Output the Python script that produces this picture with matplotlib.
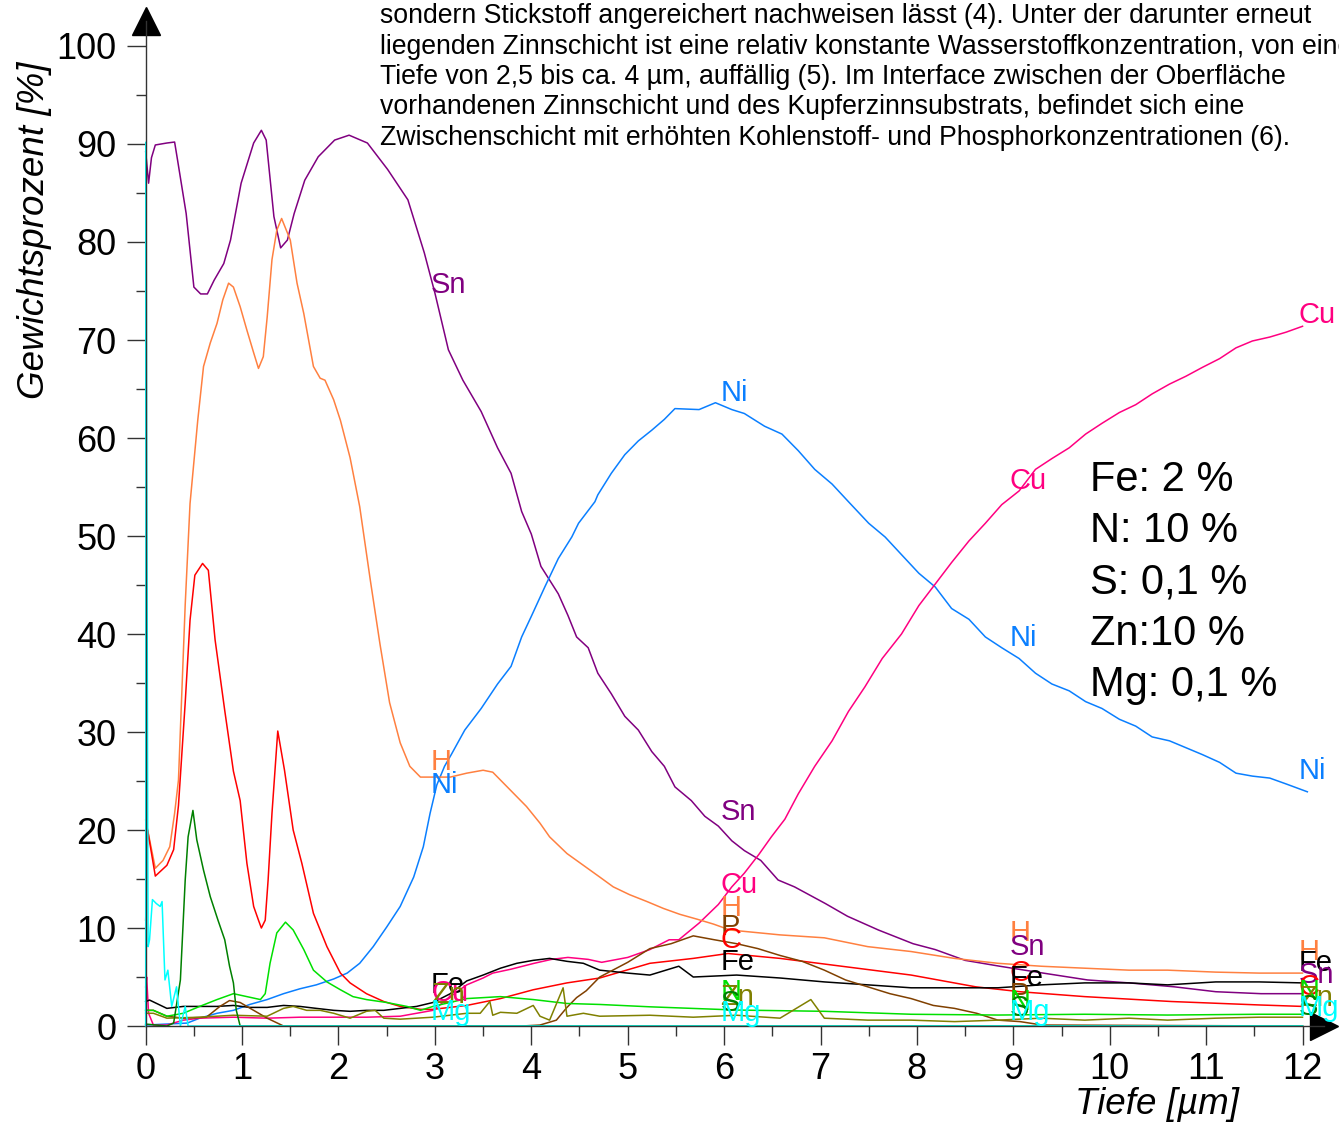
import matplotlib
matplotlib.use("Agg")
import matplotlib.pyplot as plt
from matplotlib.ticker import MultipleLocator

plt.rcParams['font.family'] = ['Liberation Sans', 'DejaVu Sans']

# depth profile, values
sn_x = [0, 0.03, 0.06, 0.1, 0.22, 0.3, 0.33, 0.42, 0.5, 0.57, 0.64, 0.71, 0.81, 0.88, 0.99, 1.12, 1.2, 1.25,
        1.33, 1.4, 1.47, 1.54, 1.65, 1.79, 1.96, 2.11, 2.3, 2.51, 2.72, 2.89, 3.0, 3.14, 3.29, 3.48, 3.65, 3.79,
        3.9, 4.0, 4.1, 4.19, 4.28, 4.38, 4.47, 4.59, 4.69, 4.83, 4.97, 5.11, 5.25, 5.38, 5.49, 5.66, 5.8, 5.94,
        6.08, 6.21, 6.38, 6.56, 6.73, 7.05, 7.28, 7.6, 7.96, 8.19, 8.5, 8.86, 9.31, 9.77, 10.2, 10.67, 11.1,
        11.57, 12.0]
sn_y = [89.2, 86.0, 88.6, 89.9, 90.1, 90.2, 88.4, 82.9, 75.4, 74.7, 74.7, 76.1, 77.8, 80.2, 86.0, 90.1, 91.4, 90.4,
        82.6, 79.4, 80.2, 82.9, 86.3, 88.7, 90.4, 90.9, 90.1, 87.4, 84.3, 78.9, 74.8, 69.0, 65.9, 62.7, 59.0, 56.4,
        52.5, 50.2, 46.9, 45.5, 44.1, 41.9, 39.7, 38.6, 36.0, 33.9, 31.6, 30.2, 28.0, 26.5, 24.4, 23.0, 21.4, 20.4,
        18.9, 17.9, 16.9, 14.9, 14.2, 12.5, 11.2, 9.8, 8.4, 7.8, 6.7, 6.1, 5.4, 4.7, 4.4, 4.0, 3.5,
        3.3, 3.3]

ni_x = [0, 0.43, 0.56, 0.74, 0.91, 1.08, 1.26, 1.43, 1.6, 1.77, 1.95, 2.09, 2.22, 2.36, 2.5, 2.64, 2.78, 2.88,
        2.95, 3.02, 3.1, 3.17, 3.31, 3.48, 3.65, 3.79, 3.9, 4.0, 4.14, 4.28, 4.42, 4.49, 4.66, 4.69, 4.83, 4.97,
        5.11, 5.25, 5.38, 5.49, 5.74, 5.91, 6.08, 6.21, 6.42, 6.6, 6.77, 6.94, 7.12, 7.29, 7.5, 7.67, 7.84, 8.02,
        8.19, 8.36, 8.54, 8.71, 8.88, 9.06, 9.23, 9.4, 9.58, 9.75, 9.92, 10.1, 10.27, 10.44, 10.62, 10.79, 10.96,
        11.14, 11.31, 11.48, 11.66, 11.83, 12.05]
ni_y = [0.1, 0.3, 0.8, 1.3, 1.6, 2.2, 2.7, 3.3, 3.8, 4.2, 4.8, 5.4, 6.4, 8.1, 10.1, 12.2, 15.2, 18.3,
        21.7, 24.6, 26.5, 27.7, 30.2, 32.4, 34.9, 36.7, 39.7, 41.8, 44.8, 47.7, 49.9, 51.3, 53.5, 54.2, 56.4, 58.3,
        59.7, 60.8, 61.9, 63.0, 62.9, 63.6, 62.9, 62.5, 61.2, 60.4, 58.7, 56.8, 55.3, 53.5, 51.3, 49.9, 48.1, 46.2,
        44.8, 42.6, 41.5, 39.7, 38.6, 37.5, 36.0, 34.9, 34.2, 33.1, 32.4, 31.3, 30.6, 29.5, 29.1, 28.4, 27.7,
        26.9, 25.8, 25.5, 25.3, 24.7, 23.9]

cu_x = [0, 0.01, 0.03, 0.08, 0.22, 0.39, 0.56, 0.91, 1.26, 1.6, 1.95, 2.29, 2.64, 2.81, 2.98, 3.16, 3.33, 3.5,
        3.6, 3.79, 4.03, 4.21, 4.38, 4.59, 4.73, 5.0, 5.23, 5.43, 5.53, 5.74, 5.94, 6.08, 6.21, 6.36, 6.49, 6.63,
        6.77, 6.94, 7.12, 7.29, 7.46, 7.64, 7.84, 8.02, 8.19, 8.36, 8.54, 8.71, 8.88, 9.06, 9.23, 9.4, 9.58, 9.75,
        9.92, 10.1, 10.27, 10.44, 10.62, 10.79, 10.96, 11.14, 11.31, 11.48, 11.66, 11.83, 12.0]
cu_y = [4.0, 5.0, 1.3, 0.1, 0.1, 0.6, 0.8, 0.9, 0.8, 0.9, 0.9, 0.9, 1.0, 1.3, 1.6, 3.0, 4.2, 4.9,
        5.4, 5.8, 6.4, 6.8, 7.0, 6.8, 6.5, 7.0, 7.8, 8.8, 8.8, 10.5, 12.4, 14.2, 15.6, 17.5, 19.3, 21.1,
        23.7, 26.5, 29.1, 32.1, 34.6, 37.5, 40.0, 42.9, 45.1, 47.3, 49.5, 51.3, 53.2, 54.6, 56.8, 57.9, 59.0, 60.4,
        61.5, 62.6, 63.4, 64.5, 65.5, 66.3, 67.2, 68.1, 69.2, 69.9, 70.3, 70.8, 71.4]

h_x = [0, 0.1, 0.18, 0.25, 0.3, 0.34, 0.41, 0.46, 0.54, 0.6, 0.67, 0.74, 0.8, 0.86, 0.91, 0.98, 1.05, 1.12,
       1.17, 1.22, 1.26, 1.31, 1.36, 1.41, 1.5, 1.57, 1.64, 1.74, 1.81, 1.86, 1.95, 2.02, 2.12, 2.22, 2.33, 2.43,
       2.53, 2.64, 2.74, 2.85, 2.98, 3.16, 3.33, 3.5, 3.6, 3.68, 3.78, 3.95, 4.09, 4.19, 4.37, 4.54, 4.71, 4.85,
       5.02, 5.2, 5.37, 5.54, 5.72, 5.89, 6.06, 6.58, 7.04, 7.49, 7.94, 8.39, 8.84, 9.29, 9.74, 10.2, 10.6, 11.1,
       11.55, 12.0]
h_y = [21.0, 16.1, 16.9, 18.3, 21.7, 25.1, 43.0, 53.3, 61.8, 67.3, 69.7, 71.7, 74.1, 75.8, 75.4, 73.4, 71.0, 68.7,
       67.1, 68.3, 72.3, 78.2, 81.2, 82.4, 80.2, 75.8, 72.7, 67.3, 66.1, 65.9, 63.9, 61.8, 58.0, 53.0, 45.5, 39.0,
       33.0, 28.9, 26.5, 25.4, 25.4, 25.4, 25.8, 26.1, 25.9, 25.1, 24.1, 22.4, 20.7, 19.3, 17.6, 16.4, 15.2, 14.2,
       13.4, 12.7, 12.0, 11.4, 10.9, 10.4, 9.8, 9.3, 9.0, 8.1, 7.6, 6.9, 6.4, 6.1, 5.9, 5.7, 5.7, 5.5,
       5.4, 5.4]

c_x = [0, 0.02, 0.1, 0.22, 0.29, 0.34, 0.41, 0.46, 0.51, 0.59, 0.65, 0.72, 0.82, 0.91, 0.98, 1.05, 1.12, 1.17,
       1.2, 1.24, 1.27, 1.31, 1.37, 1.44, 1.53, 1.62, 1.74, 1.88, 2.02, 2.12, 2.29, 2.47, 2.64, 2.85, 2.98, 3.33,
       3.68, 4.02, 4.37, 4.71, 5.23, 5.68, 6.04, 6.58, 7.26, 7.94, 8.61, 9.07, 9.74, 10.64, 11.55, 12.0]
c_y = [10.8, 20.0, 15.3, 16.4, 18.0, 22.5, 33.0, 41.4, 46.0, 47.2, 46.5, 39.4, 32.2, 26.0, 23.0, 16.6, 12.2, 10.8,
       10.0, 10.8, 14.9, 21.7, 30.1, 26.1, 20.0, 16.6, 11.5, 8.1, 5.4, 4.4, 3.3, 2.5, 2.0, 1.7, 1.7, 2.1,
       2.8, 3.7, 4.4, 4.9, 6.4, 6.9, 7.4, 6.9, 6.05, 5.2, 4.0, 3.5, 3.0, 2.5, 2.15, 2.0]

fe_x = [0, 0.04, 0.22, 0.39, 0.56, 0.74, 0.91, 1.08, 1.26, 1.43, 1.6, 1.77, 1.95, 2.12, 2.29, 2.47, 2.64, 2.81,
        2.98, 3.16, 3.33, 3.5, 3.68, 3.85, 4.02, 4.19, 4.37, 4.54, 4.71, 5.0, 5.23, 5.53, 5.68, 6.13, 6.58, 7.04,
        7.49, 7.94, 8.39, 8.84, 9.29, 9.74, 10.2, 10.6, 11.1, 11.55, 12.0]
fe_y = [2.5, 2.65, 1.8, 2.0, 2.0, 2.0, 2.1, 1.9, 1.9, 2.1, 2.0, 1.8, 1.6, 1.5, 1.6, 1.6, 1.8, 2.0,
        2.4, 3.3, 4.6, 5.2, 5.9, 6.4, 6.7, 6.9, 6.6, 6.4, 5.7, 5.4, 5.2, 6.1, 5.0, 5.2, 4.9, 4.5,
        4.2, 3.9, 3.9, 3.9, 4.2, 4.4, 4.4, 4.2, 4.5, 4.5, 4.4]

p_x = [0, 0.08, 0.22, 0.39, 0.63, 0.77, 0.87, 0.98, 1.12, 1.26, 1.43, 3.9, 4.09, 4.26, 4.37, 4.47, 4.57, 4.71,
       5.0, 5.23, 5.45, 5.68, 5.9, 6.13, 6.35, 6.58, 6.81, 7.04, 7.26, 7.49, 7.72, 7.94, 8.17, 8.39, 8.62, 8.84,
       9.07, 9.3, 12.0]
p_y = [1.6, 1.6, 1.0, 0.8, 0.9, 2.0, 2.6, 2.4, 1.6, 0.8, 0.0, 0.0, 0.1, 0.6, 1.9, 2.9, 3.6, 5.0,
       6.5, 7.9, 8.4, 9.2, 8.8, 8.4, 7.9, 7.2, 6.6, 5.7, 4.7, 4.0, 3.3, 2.8, 2.1, 1.8, 1.3, 0.6,
       0.45, 0.1, 0.0]

n_x = [0, 0.08, 0.22, 0.39, 0.56, 0.74, 0.91, 1.05, 1.19, 1.24, 1.29, 1.36, 1.45, 1.53, 1.64, 1.74, 1.88, 2.02,
       2.15, 2.29, 2.5, 2.71, 2.85, 2.98, 3.33, 3.68, 4.02, 4.37, 4.71, 5.23, 6.13, 7.04, 7.94, 8.84, 9.74, 10.6,
       11.55, 12.0]
n_y = [1.6, 1.6, 1.0, 1.3, 2.0, 2.7, 3.3, 3.0, 2.7, 3.3, 6.4, 9.5, 10.6, 9.8, 7.8, 5.7, 4.5, 3.7,
       3.0, 2.7, 2.4, 2.0, 1.6, 2.0, 2.8, 3.0, 2.7, 2.3, 2.2, 1.96, 1.63, 1.5, 1.2, 1.12, 1.2, 1.12,
       1.2, 1.2]

zn_x = [0, 0.08, 0.22, 0.56, 0.91, 1.26, 1.43, 1.53, 1.67, 1.81, 1.95, 2.12, 2.29, 2.38, 2.47, 2.64, 2.81, 2.98,
        3.33, 3.47, 3.57, 3.6, 3.68, 3.85, 4.02, 4.09, 4.19, 4.33, 4.37, 4.54, 4.71, 5.23, 5.68, 6.13, 6.58, 6.9,
        7.04, 7.49, 7.94, 8.39, 8.84, 9.29, 9.74, 10.2, 10.6, 11.1, 11.55, 12.0]
zn_y = [1.3, 1.3, 0.8, 0.9, 1.1, 1.0, 1.8, 2.0, 1.6, 1.6, 1.3, 0.8, 1.5, 1.6, 0.8, 0.7, 0.8, 0.9,
        1.3, 1.3, 2.5, 1.1, 1.4, 1.3, 2.1, 1.0, 0.6, 3.9, 1.0, 1.3, 1.0, 1.1, 0.9, 1.1, 0.8, 2.7,
        0.8, 0.6, 0.6, 0.45, 0.6, 0.8, 0.6, 0.8, 0.6, 0.8, 0.9, 0.9]

s_x = [0, 0.22, 0.29, 0.36, 0.41, 0.44, 0.49, 0.53, 0.6, 0.67, 0.75, 0.82, 0.87, 0.91, 0.94, 0.98, 12.0]
s_y = [0.2, 0.0, 0.3, 4.7, 14.9, 19.3, 22.0, 19.0, 15.9, 13.2, 10.8, 8.8, 6.1, 4.4, 1.6, 0.0, 0.0]

mg_x = [0, 0.004, 0.01, 0.025, 0.04, 0.07, 0.11, 0.15, 0.17, 0.2, 0.23, 0.27, 0.32, 0.36, 0.41, 0.44, 12.0]
mg_y = [0.0, 90.2, 60.0, 8.1, 8.8, 12.9, 12.5, 12.2, 12.7, 4.7, 5.7, 2.0, 4.0, 0.0, 2.0, 0.0, 0.0]

series = [
    ("Sn", sn_x, sn_y, "#800080"),
    ("Ni", ni_x, ni_y, "#0a7fff"),
    ("Cu", cu_x, cu_y, "#ff0080"),
    ("H", h_x, h_y, "#ff8040"),
    ("C", c_x, c_y, "#ff0000"),
    ("Fe", fe_x, fe_y, "#000000"),
    ("P", p_x, p_y, "#804000"),
    ("N", n_x, n_y, "#00e000"),
    ("Zn", zn_x, zn_y, "#808000"),
    ("S", s_x, s_y, "#008000"),
    ("Mg", mg_x, mg_y, "#00ffff"),
]
colors = {name: col for name, _, _, col in series}

# element labels along the curves: (name, depth, height)
labels = [
    ("Sn", 3, 75.6), ("H", 3, 26.9), ("Ni", 3, 24.6), ("Fe", 3, 4.2), ("Cu", 3, 3.4), ("Zn", 3, 3.2), ("Mg", 3, 1.4),
    ("Ni", 6, 64.6), ("Sn", 6, 21.8), ("Cu", 6, 14.4), ("H", 6, 12.0), ("P", 6, 10.1), ("C", 6, 8.8),
    ("Fe", 6, 6.5), ("N", 6, 3.5), ("Zn", 6, 3.0), ("S", 6, 2.3), ("Mg", 6, 1.3),
    ("Cu", 9, 55.6), ("Ni", 9, 39.6), ("H", 9, 9.5), ("Sn", 9, 8.1), ("C", 9, 5.4), ("Fe", 9, 4.9),
    ("P", 9, 3.2), ("N", 9, 2.5), ("S", 9, 1.8), ("Mg", 9, 1.4),
    ("Cu", 12, 72.6), ("Ni", 12, 26.0), ("H", 12, 7.6), ("Fe", 12, 6.4), ("Sn", 12, 5.2), ("C", 12, 4.0),
    ("N", 12, 3.5), ("Zn", 12, 2.9), ("S", 12, 1.9), ("Mg", 12, 1.8),
]

scale_notes = ["Fe: 2 %", "N: 10 %", "S: 0,1 %", "Zn:10 %", "Mg: 0,1 %"]

paragraph = [
    "sondern Stickstoff angereichert nachweisen lässt (4). Unter der darunter erneut",
    "liegenden Zinnschicht ist eine relativ konstante Wasserstoffkonzentration, von einer",
    "Tiefe von 2,5 bis ca. 4 µm, auffällig (5). Im Interface zwischen der Oberfläche",
    "vorhandenen Zinnschicht und des Kupferzinnsubstrats, befindet sich eine",
    "Zwischenschicht mit erhöhten Kohlenstoff- und Phosphorkonzentrationen (6).",
]

xmax, ymax = 12.22, 102.6

fig = plt.figure(figsize=(13.39, 11.27), dpi=100)
ax = fig.add_axes([0.1088, 0.0896, 0.8798, 0.8922])

for name, xs, ys, col in series:
    ax.plot(xs, ys, color=col, lw=1.1, clip_on=False)

for name, xp, yp in labels:
    ax.text(xp - 0.04, yp, name, color=colors[name], fontsize=21, ha='left', va='center')

ax.set_xlim(0, xmax)
ax.set_ylim(0, ymax)
ax.set_xticks(range(0, 13))
ax.set_yticks(range(0, 101, 10))
ax.set_xticks([v + 0.5 for v in range(0, 12)], minor=True)
ax.set_yticks(range(5, 100, 10), minor=True)
ax.tick_params(axis='both', which='major', direction='out', length=14, width=1, color='#333333', labelsize=26)
ax.tick_params(axis='both', which='minor', direction='out', length=7, width=1, color='#333333')
ax.tick_params(axis='y', which='major', pad=7)
ax.tick_params(axis='x', which='major', pad=5)

for side in ['top', 'right']:
    ax.spines[side].set_visible(False)
for side in ['left', 'bottom']:
    ax.spines[side].set_color('#333333')
    ax.spines[side].set_linewidth(1)

ax.plot([0], [ymax], marker='^', color='black', ms=20, clip_on=False)
ax.plot([xmax], [0], marker='>', color='black', ms=20, clip_on=False)

fig.text(35 / 1339, 1 - 230 / 1127, "Gewichtsprozent [%]", rotation=90, style='italic',
         fontsize=26.5, ha='center', va='center')
fig.text(1157 / 1339, 1 - 1105 / 1127, "Tiefe [µm]", style='italic', fontsize=26.5, ha='center', va='center')

for i, line in enumerate(paragraph):
    fig.text(380 / 1339, 1 - (16 + 30.5 * i) / 1127, line, fontsize=19.2, ha='left', va='center')

for i, note in enumerate(scale_notes):
    fig.text(1090 / 1339, 1 - (480 + 51.2 * i) / 1127, note, fontsize=30, ha='left', va='center')

fig.savefig("out.png", dpi=100)
